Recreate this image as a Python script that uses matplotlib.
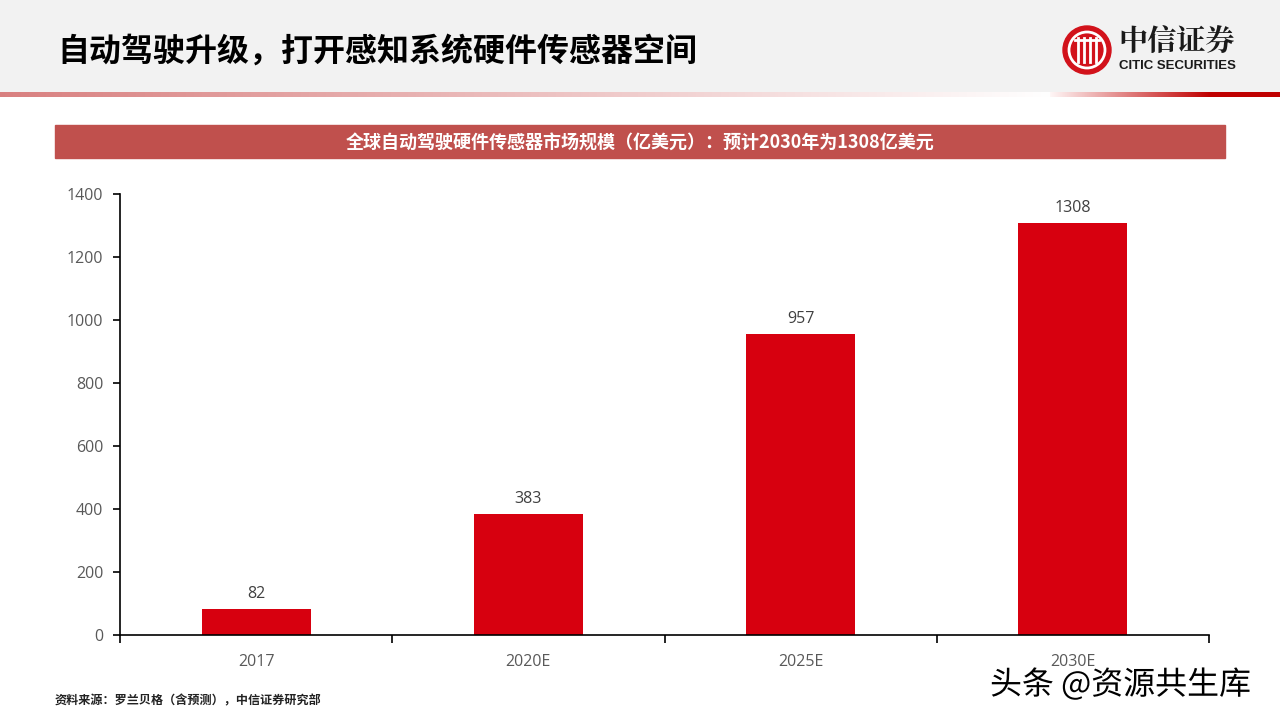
import matplotlib
matplotlib.use("Agg")
import matplotlib.pyplot as plt
import numpy as np
from matplotlib.patches import Rectangle, Circle
import matplotlib.patheffects as pe

categories = ["2017", "2020E", "2025E", "2030E"]
values = [82, 383, 957, 1308]
yticks = [0, 200, 400, 600, 800, 1000, 1200, 1400]

title = "自动驾驶升级，打开感知系统硬件传感器空间"
banner = "全球自动驾驶硬件传感器市场规模（亿美元）：预计2030年为1308亿美元"
source = "资料来源：罗兰贝格（含预测），中信证券研究部"

plt.rcParams['font.family'] = ['Noto Sans CJK SC', 'DejaVu Sans']

W, H = 1280, 720
fig = plt.figure(figsize=(12.8, 7.2), dpi=100)
fig.patch.set_facecolor("white")

# background overlay axes in pixel coords
bg = fig.add_axes([0, 0, 1, 1])
bg.add_patch(Rectangle((0, 0), W, 92, color="#F2F2F2", zorder=0))

# gradient line
xs = np.linspace(0, W, 1280)
cols = []
for x in xs:
    if x < 1050:
        t = x / 1050
        c0 = np.array([0.85, 0.50, 0.50])
        c = c0 + (np.array([1, 1, 1]) - c0) * t
    else:
        t = min((x - 1050) / 160, 1)
        c0 = np.array([1.0, 0.97, 0.97])
        c1 = np.array([0.75, 0.0, 0.0])
        c = c0 + (c1 - c0) * t
    cols.append(c)
grad = np.array(cols)[None, :, :]
bg.imshow(grad, extent=[0, W, 97, 92], aspect="auto", zorder=1)
bg.set_xlim(0, W)
bg.set_ylim(H, 0)
bg.axis("off")

bg.text(57, 52, title, fontsize=23, fontweight="bold", color="black",
        va="center", ha="left")

# logo
bg.add_patch(Circle((1087, 50), 24, color="#D2121B", zorder=3))
bg.add_patch(Circle((1087, 50), 18, facecolor="none", edgecolor="white", lw=2, zorder=4))
for dx in (-9, -3, 3, 9):
    bg.plot([1087 + dx, 1087 + dx], [38, 62], color="white", lw=2, zorder=5)
bg.plot([1075, 1099], [40, 40], color="white", lw=2, zorder=5)
bg.text(1118, 42, "中信证券", fontsize=21, fontweight="bold", color="#1a1a1a",
        va="center", ha="left", family=["Noto Serif CJK SC", "Noto Sans CJK SC"])
bg.text(1119, 66, "CITIC SECURITIES", fontsize=9.5, fontweight="bold", color="#1a1a1a",
        va="center", ha="left", family=["Liberation Sans", "DejaVu Sans"])

# banner
bg.add_patch(Rectangle((55, 125), 1170, 33, color="#C0504D", zorder=2))
bg.text(640, 143, banner, fontsize=13, fontweight="bold", color="white",
        va="center", ha="center", zorder=3)

bg.text(55, 701, source, fontsize=8.7, fontweight="bold", color="#222222",
        va="center", ha="left")

# watermark
bg.text(990, 685, "头条 @资源共生库", fontsize=23, color="black", va="center", ha="left",
        path_effects=[pe.withStroke(linewidth=3, foreground="white")], zorder=6)

# chart
ax = fig.add_axes([120 / W, 1 - 635 / H, (1209 - 120) / W, (635 - 194) / H])
x = np.arange(len(categories))
ax.bar(x, values, width=0.4, color="#D7000F", zorder=2)
ax.set_xlim(-0.5, len(categories) - 0.5)
ax.set_ylim(0, 1400)
ax.set_yticks(yticks)
ax.set_yticklabels([str(v) for v in yticks], family=["Open Sans", "DejaVu Sans"])
ax.set_xticks(x)
ax.set_xticklabels(categories, family=["Open Sans", "DejaVu Sans"])
ax.set_xticks(np.arange(-0.5, len(categories)), minor=True)
ax.tick_params(axis="x", which="major", length=0, pad=14, labelsize=11.5, labelcolor="#595959")
ax.tick_params(axis="x", which="minor", length=6, width=1.2, direction="out", color="black")
ax.tick_params(axis="y", length=5, width=1.2, pad=7, labelsize=11.5, labelcolor="#595959")
for s in ("top", "right"):
    ax.spines[s].set_visible(False)
ax.spines["left"].set_linewidth(1.2)
ax.spines["bottom"].set_linewidth(1.2)
ax.set_facecolor("none")
for xi, v in zip(x, values):
    ax.annotate(str(v), (xi, v), xytext=(0, 5), textcoords="offset points",
                ha="center", va="bottom", fontsize=11.5, color="#404040",
                family=["Open Sans", "DejaVu Sans"])

fig.savefig("out.png", dpi=100)
